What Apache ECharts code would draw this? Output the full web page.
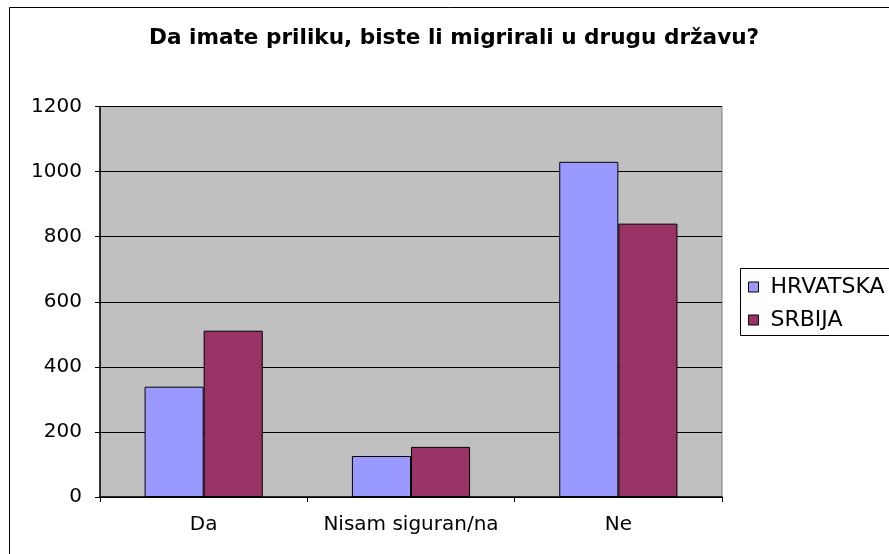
<!DOCTYPE html>
<html>
<head>
<meta charset="utf-8">
<script src="https://cdn.jsdelivr.net/npm/echarts@6/dist/echarts.min.js"></script>
<style>
  html, body { margin: 0; padding: 0; background: #fff; }
  #main { width: 889px; height: 554px; }
</style>
</head>
<body>
<div id="main"></div>
<script>
var categories = ['Da', 'Nisam siguran/na', 'Ne'];
var hrvatska = [339, 126, 1030];
var srbija = [511, 154, 840];
var yTicks = [0, 200, 400, 600, 800, 1000, 1200];

var font = '"DejaVu Sans", Arial, sans-serif';
var myChart = echarts.init(document.getElementById('main'));

myChart.setOption({
    animation: false,
    backgroundColor: '#fff',
    title: {
        text: 'Da imate priliku, biste li migrirali u drugu državu?',
        left: 149,
        top: 27,
        padding: 0,
        textStyle: { fontFamily: font, fontSize: 21.6, fontWeight: 'bold', color: '#000' }
    },
    // outer chart frame and legend box
    graphic: [
        {
            type: 'rect',
            shape: { x: 9.5, y: 7.5, width: 900, height: 600 },
            style: { fill: null, stroke: '#000', lineWidth: 1 },
            silent: true
        },
        {
            type: 'rect',
            shape: { x: 740.5, y: 268.5, width: 200, height: 67 },
            style: { fill: '#fff', stroke: '#000', lineWidth: 1 },
            silent: true
        }
    ],
    legend: {
        orient: 'vertical',
        left: 748,
        top: 276,
        padding: 0,
        itemWidth: 10,
        itemHeight: 10,
        itemGap: 11,
        icon: 'rect',
        itemStyle: { borderColor: '#000', borderWidth: 1 },
        textStyle: { fontFamily: font, fontSize: 22, color: '#000', padding: [0, 0, 0, 7] },
        data: ['HRVATSKA', 'SRBIJA'],
        z: 10
    },
    grid: {
        left: 100,
        top: 106.5,
        right: 167,
        bottom: 57,
        show: true,
        backgroundColor: '#C0C0C0',
        borderColor: '#808080',
        borderWidth: 1
    },
    xAxis: {
        type: 'category',
        data: categories,
        axisLine: { lineStyle: { color: '#000', width: 1.5 } },
        axisTick: { show: true, length: 5, inside: false, lineStyle: { color: '#000' } },
        axisLabel: { fontFamily: font, fontSize: 20, color: '#000', margin: 18, interval: 0, hideOverlap: false }
    },
    yAxis: {
        type: 'value',
        min: yTicks[0],
        max: yTicks[yTicks.length - 1],
        interval: 200,
        axisLine: { show: true, lineStyle: { color: '#000', width: 1.5 } },
        axisTick: { show: true, length: 5, lineStyle: { color: '#000' } },
        axisLabel: {
            fontFamily: font, fontSize: 20, color: '#000', margin: 18,
            formatter: function (v) { return String(v); }
        },
        splitLine: { show: true, lineStyle: { color: '#000', width: 1 } }
    },
    series: [
        {
            name: 'HRVATSKA',
            type: 'bar',
            data: hrvatska,
            barGap: '0%',
            barCategoryGap: '43%',
            itemStyle: { color: '#9999FF', borderColor: '#000', borderWidth: 1 }
        },
        {
            name: 'SRBIJA',
            type: 'bar',
            data: srbija,
            itemStyle: { color: '#993366', borderColor: '#000', borderWidth: 1 }
        }
    ]
});
</script>
</body>
</html>
